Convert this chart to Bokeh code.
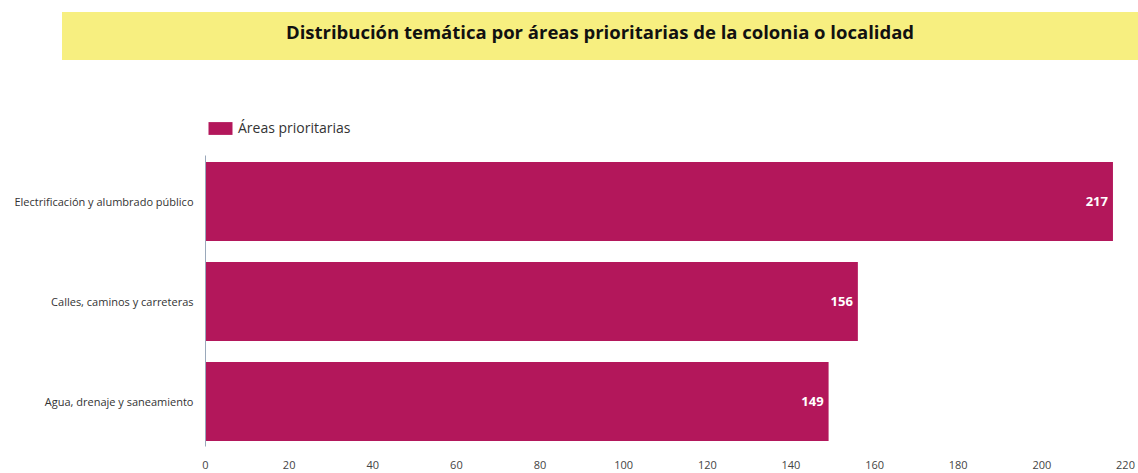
from bokeh.plotting import figure
from bokeh.models import Range1d, FixedTicker, Legend, LegendItem, ColumnDataSource, Div
from bokeh.layouts import column
from bokeh.core.properties import value
from bokeh.embed import file_html
from bokeh.resources import INLINE

# ---- data ----
title_text = "Distribución temática por áreas prioritarias de la colonia o localidad"
series_name = "Áreas prioritarias"
categories = ["Electrificación y alumbrado público",
              "Calles, caminos y carreteras",
              "Agua, drenaje y saneamiento"]
values = [217, 156, 149]
x_ticks = [0, 20, 40, 60, 80, 100, 120, 140, 160, 180, 200, 220]

BAR = "#b3175b"
FONT = "Open Sans"

# ---- title banner ----
banner = Div(text=title_text, width=1076, height=48, margin=(12, 0, 4, 62),
             styles={"background-color": "#f7ef80", "font-family": "Open Sans",
                     "font-weight": "bold", "font-size": "18.5px", "color": "#111111",
                     "text-align": "center", "line-height": "40px"})

# ---- main chart ----
n = len(categories)
ypos = [float(n - 1 - i) for i in range(n)]
src = ColumnDataSource(dict(y=ypos, value=values, label=[str(v) for v in values], cat=categories))

p = figure(width=1138, height=409, x_range=Range1d(0, 220), y_range=Range1d(-0.45, 2.83),
           output_backend="svg", toolbar_location=None,
           min_border_left=205, min_border_right=13, min_border_top=54, min_border_bottom=27)
p.outline_line_color = None
p.grid.visible = False

bars = p.hbar(y="y", left=0, right="value", height=0.79, source=src,
              fill_color=BAR, line_color=None)
p.text(x="value", y="y", text="label", source=src, x_offset=-5, text_align="right",
       text_baseline="middle", text_color="white", text_font=value(FONT),
       text_font_style="bold", text_font_size="13px")

# y axis
p.yaxis.ticker = FixedTicker(ticks=ypos)
p.yaxis.bounds = (-0.45, 2.46)
p.yaxis.major_label_overrides = {y: c for y, c in zip(ypos, categories)}
p.yaxis.axis_line_color = "#9aa8ba"
p.yaxis.major_tick_line_color = None
p.yaxis.minor_tick_line_color = None
p.yaxis.major_tick_out = 0
p.yaxis.major_label_standoff = 12
p.yaxis.major_label_text_font = FONT
p.yaxis.major_label_text_font_size = "11px"
p.yaxis.major_label_text_color = "#333333"

# x axis
p.xaxis.ticker = FixedTicker(ticks=x_ticks)
p.xaxis.axis_line_color = None
p.xaxis.major_tick_line_color = None
p.xaxis.minor_tick_line_color = None
p.xaxis.major_tick_out = 0
p.xaxis.major_label_standoff = 14
p.xaxis.major_label_text_font = FONT
p.xaxis.major_label_text_font_size = "11px"
p.xaxis.major_label_text_color = "#444444"

legend = Legend(items=[LegendItem(label=series_name, renderers=[bars])],
                location="top_left", orientation="horizontal",
                border_line_color=None, background_fill_alpha=0,
                padding=0, margin=0, glyph_width=30, glyph_height=16,
                label_text_font=FONT, label_text_font_size="14px",
                label_text_color="#333333", label_standoff=3)
p.add_layout(legend, "center")

layout = column(banner, p, spacing=0)
open("out.html", "w").write(file_html(layout, INLINE))
